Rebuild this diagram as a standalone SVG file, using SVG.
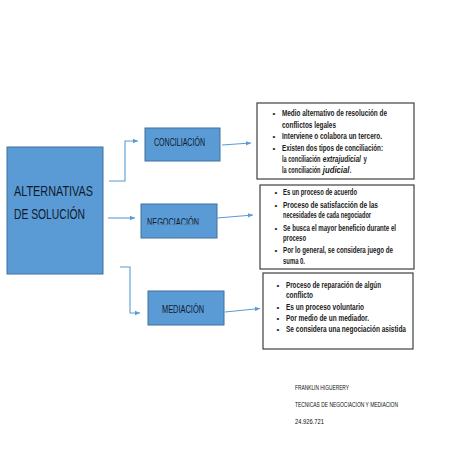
<svg xmlns="http://www.w3.org/2000/svg" width="453" height="453" viewBox="0 0 453 453">
<defs>
<marker id="ah" markerWidth="6" markerHeight="6" refX="5" refY="3" orient="auto" markerUnits="userSpaceOnUse">
<path d="M0,0.8 L5,3 L0,5.2 Z" fill="#5b9bd5"/>
</marker>
<clipPath id="negclip"><rect x="141" y="204" width="76" height="20.5"/></clipPath>
</defs>
<style>
.blue{fill:#5b9bd5;stroke:#41719c;stroke-width:1}
.lbl{font-family:"Liberation Sans",Arial,sans-serif;fill:#0d1a2b}
.tb{fill:#fff;stroke:#404040;stroke-width:1.2}
.bt{font-family:"Liberation Sans",Arial,sans-serif;font-weight:bold;font-size:8.6px;fill:#1a1a1a}
.it{font-style:italic}
.bul{font-family:"Liberation Sans",Arial,sans-serif;font-size:8px;fill:#1a1a1a}
.con{fill:none;stroke:#5b9bd5;stroke-width:1.1;marker-end:url(#ah)}
.foot{font-family:"Liberation Sans",Arial,sans-serif;font-size:6.3px;fill:#111}
</style>
<rect width="453" height="453" fill="#fff"/>
<g id="alternativas">
<rect class="blue" x="7" y="147" width="96" height="127"/>
<text class="lbl" x="14" y="196" font-size="15" textLength="79" lengthAdjust="spacingAndGlyphs">ALTERNATIVAS</text>
<text class="lbl" x="14" y="219" font-size="15" textLength="71" lengthAdjust="spacingAndGlyphs">DE SOLUCIÓN</text>
</g>
<g id="conciliacion">
<rect class="blue" x="145" y="128" width="75" height="33"/>
<text class="lbl" x="154" y="146" font-size="10" textLength="51" lengthAdjust="spacingAndGlyphs">CONCILIACIÓN</text>
</g>
<g id="negociacion">
<rect class="blue" x="141" y="204" width="76" height="34"/>
<text class="lbl" x="147" y="226" font-size="10" textLength="52" lengthAdjust="spacingAndGlyphs" clip-path="url(#negclip)">NEGOCIACIÓN</text>
</g>
<g id="mediacion">
<rect class="blue" x="148" y="291" width="76" height="34"/>
<text class="lbl" x="162" y="313" font-size="10" textLength="42" lengthAdjust="spacingAndGlyphs">MEDIACIÓN</text>
</g>
<g id="box-conciliacion">
<rect class="tb" x="257" y="103" width="157" height="76"/>
<text class="bul" x="272.5" y="116">•</text>
<text class="bt" x="282" y="116" textLength="105" lengthAdjust="spacingAndGlyphs">Medio alternativo de resolución de</text>
<text class="bt" x="282" y="127.5" textLength="54" lengthAdjust="spacingAndGlyphs">conflictos legales</text>
<text class="bul" x="272.5" y="139">•</text>
<text class="bt" x="282" y="139" textLength="100" lengthAdjust="spacingAndGlyphs">Interviene o colabora un tercero.</text>
<text class="bul" x="272.5" y="150.5">•</text>
<text class="bt" x="282" y="150.5" textLength="101" lengthAdjust="spacingAndGlyphs">Existen dos tipos de conciliación:</text>
<g transform="translate(282,162) scale(0.65,1)"><text class="bt" x="0" y="0">la conciliación</text></g>
<g transform="translate(322.8,162) scale(0.76,1)"><text class="bt it" x="0" y="0">extrajudicial</text></g>
<g transform="translate(363.5,162) scale(0.7,1)"><text class="bt" x="0" y="0">y</text></g>
<g transform="translate(282,173) scale(0.65,1)"><text class="bt" x="0" y="0">la conciliación</text></g>
<g transform="translate(322.8,173) scale(0.9,1)"><text class="bt it" x="0" y="0">judicial</text></g>
<g transform="translate(349.8,173) scale(0.7,1)"><text class="bt" x="0" y="0">.</text></g>
</g>
<g id="box-negociacion">
<rect class="tb" x="260" y="185" width="154" height="84"/>
<text class="bul" x="274.5" y="195">•</text>
<text class="bt" x="283" y="195" textLength="74" lengthAdjust="spacingAndGlyphs">Es un proceso de acuerdo</text>
<text class="bul" x="274.5" y="207.5">•</text>
<text class="bt" x="283" y="207.5" textLength="95" lengthAdjust="spacingAndGlyphs">Proceso de satisfacción de las</text>
<text class="bt" x="283" y="218" textLength="88" lengthAdjust="spacingAndGlyphs">necesidades de cada negociador</text>
<text class="bul" x="274.5" y="230.5">•</text>
<text class="bt" x="283" y="230.5" textLength="113" lengthAdjust="spacingAndGlyphs">Se busca el mayor beneficio durante el</text>
<text class="bt" x="283" y="241" textLength="23" lengthAdjust="spacingAndGlyphs">proceso</text>
<text class="bul" x="274.5" y="253">•</text>
<text class="bt" x="283" y="253" textLength="110" lengthAdjust="spacingAndGlyphs">Por lo general, se considera juego de</text>
<text class="bt" x="283" y="264" textLength="22" lengthAdjust="spacingAndGlyphs">suma 0.</text>
</g>
<g id="box-mediacion">
<rect class="tb" x="263" y="273" width="150" height="76"/>
<text class="bul" x="276.5" y="287.5">•</text>
<text class="bt" x="286" y="287.5" textLength="95" lengthAdjust="spacingAndGlyphs">Proceso de reparación de algún</text>
<text class="bt" x="286" y="298" textLength="27" lengthAdjust="spacingAndGlyphs">conflicto</text>
<text class="bul" x="276.5" y="310">•</text>
<text class="bt" x="286" y="310" textLength="78" lengthAdjust="spacingAndGlyphs">Es un proceso voluntario</text>
<text class="bul" x="276.5" y="321">•</text>
<text class="bt" x="286" y="321" textLength="83" lengthAdjust="spacingAndGlyphs">Por medio de un mediador.</text>
<text class="bul" x="276.5" y="332">•</text>
<text class="bt" x="286" y="332" textLength="120" lengthAdjust="spacingAndGlyphs">Se considera una negociación asistida</text>
</g>
<g id="connectors">
<path class="con" d="M109,181 H125 V141 H138"/>
<path class="con" d="M108,218 H135"/>
<path class="con" d="M120,267 H130 V313 H140"/>
<path class="con" d="M222,145 L251,143"/>
<path class="con" d="M217,218 L253,215"/>
<path class="con" d="M225,312 L260,308.5"/>
</g>
<g id="footer">
<text class="foot" x="295" y="390" textLength="54" lengthAdjust="spacingAndGlyphs">FRANKLIN HIGUERERY</text>
<text class="foot" x="295" y="407" textLength="103" lengthAdjust="spacingAndGlyphs">TECNICAS DE NEGOCIACION Y MEDIACION</text>
<text class="foot" x="295" y="424" textLength="29" lengthAdjust="spacingAndGlyphs">24.926.721</text>
</g>
</svg>
